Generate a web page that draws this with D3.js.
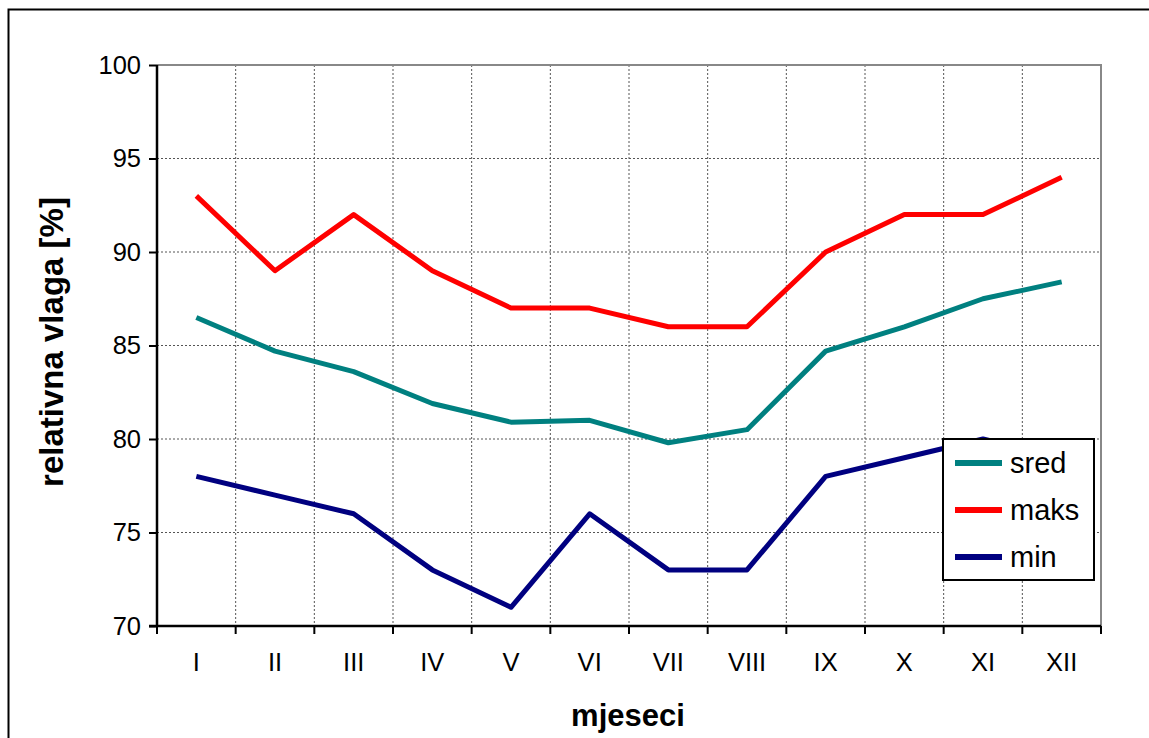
<!DOCTYPE html>
<html>
<head>
<meta charset="utf-8">
<script src="https://cdn.jsdelivr.net/npm/d3@7"></script>
<style>
  body { margin: 0; background: #fff; }
  text { font-family: "Liberation Sans", Arial, sans-serif; }
</style>
</head>
<body>
<svg id="chart" width="1149" height="738"></svg>
<script>
// data
var months = ["I", "II", "III", "IV", "V", "VI", "VII", "VIII", "IX", "X", "XI", "XII"];
var sred = [86.5, 84.7, 83.6, 81.9, 80.9, 81.0, 79.8, 80.5, 84.7, 86.0, 87.5, 88.4];
var maks = [93, 89, 92, 89, 87, 87, 86, 86, 90, 92, 92, 94];
var min = [78, 77, 76, 73, 71, 76, 73, 73, 78, 79, 80, 79];
var yTicks = [70, 75, 80, 85, 90, 95, 100];

var series = [
    {name: "sred", values: sred, color: "#008080"},
    {name: "maks", values: maks, color: "#ff0000"},
    {name: "min", values: min, color: "#000080"}
];

var svg = d3.select("#chart");
var margin = {top: 65, right: 48, bottom: 112, left: 157};
var width = 1149 - margin.left - margin.right,
    height = 738 - margin.top - margin.bottom;

// outer frame
svg.append("rect")
    .attr("x", 8.5).attr("y", 9.5)
    .attr("width", 1160).attr("height", 760)
    .attr("fill", "none").attr("stroke", "#000").attr("stroke-width", 2);

var g = svg.append("g").attr("transform", "translate(" + margin.left + "," + margin.top + ")");

var x = d3.scaleBand().domain(months).range([0, width]);
var y = d3.scaleLinear().domain([70, 100]).range([height, 0]);

// grid
g.append("g").selectAll("line.h")
    .data(yTicks.slice(1, -1))
    .enter().append("line")
    .attr("x1", 0).attr("x2", width)
    .attr("y1", function(d) { return y(d); }).attr("y2", function(d) { return y(d); })
    .attr("stroke", "#555").attr("stroke-width", 1).attr("stroke-dasharray", "2,2");

g.append("g").selectAll("line.v")
    .data(months.slice(1))
    .enter().append("line")
    .attr("x1", function(d) { return x(d); }).attr("x2", function(d) { return x(d); })
    .attr("y1", 0).attr("y2", height)
    .attr("stroke", "#555").attr("stroke-width", 1).attr("stroke-dasharray", "2,2");

// top and right border of plot area
g.append("path")
    .attr("d", "M0,0H" + width + "V" + height)
    .attr("fill", "none").attr("stroke", "#888").attr("stroke-width", 2);

// axes
var yAxis = g.append("g")
    .call(d3.axisLeft(y).tickValues(yTicks).tickSize(8).tickPadding(8));
var xAxis = g.append("g")
    .attr("transform", "translate(0," + height + ")")
    .call(d3.axisBottom(x).tickSize(0).tickPadding(27));

[yAxis, xAxis].forEach(function(ax) {
    ax.attr("font-size", 25.5).attr("font-family", "'Liberation Sans', Arial, sans-serif");
    ax.select(".domain").attr("stroke", "#000").attr("stroke-width", 2.5);
    ax.selectAll("text").attr("fill", "#000");
    ax.selectAll(".tick line").attr("stroke", "#000").attr("stroke-width", 2);
});
yAxis.select(".domain").attr("d", "M0,0V" + height);
xAxis.select(".domain").attr("d", "M-8,0H" + width);

// x ticks at band boundaries
g.append("g").selectAll("line")
    .data(months.concat(["end"]))
    .enter().append("line")
    .attr("x1", function(d, i) { return i * x.bandwidth(); })
    .attr("x2", function(d, i) { return i * x.bandwidth(); })
    .attr("y1", height).attr("y2", height + 8)
    .attr("stroke", "#000").attr("stroke-width", 2);

// lines
var line = d3.line()
    .x(function(d, i) { return x(months[i]) + x.bandwidth() / 2; })
    .y(function(d) { return y(d); });

g.selectAll("path.series")
    .data(series)
    .enter().append("path")
    .attr("class", "series")
    .attr("d", function(d) { return line(d.values); })
    .attr("fill", "none")
    .attr("stroke", function(d) { return d.color; })
    .attr("stroke-width", 5)
    .attr("stroke-linejoin", "round");

// axis titles
svg.append("text")
    .attr("x", 628).attr("y", 726)
    .attr("text-anchor", "middle")
    .attr("font-size", 31).attr("font-weight", "bold")
    .text("mjeseci");

svg.append("text")
    .attr("transform", "translate(63,342)rotate(-90)")
    .attr("text-anchor", "middle")
    .attr("font-size", 33).attr("font-weight", "bold")
    .text("relativna vlaga [%]");

// legend
var legend = svg.append("g").attr("transform", "translate(943,439)");
legend.append("rect")
    .attr("width", 151).attr("height", 141)
    .attr("fill", "#fff").attr("stroke", "#000").attr("stroke-width", 2);

var items = legend.selectAll("g.item")
    .data(series)
    .enter().append("g")
    .attr("transform", function(d, i) { return "translate(0," + (24 + i * 47) + ")"; });

items.append("line")
    .attr("x1", 12).attr("x2", 59)
    .attr("stroke", function(d) { return d.color; })
    .attr("stroke-width", 6);

items.append("text")
    .attr("x", 67).attr("y", 10)
    .attr("font-size", 29)
    .text(function(d) { return d.name; });
</script>
</body>
</html>
